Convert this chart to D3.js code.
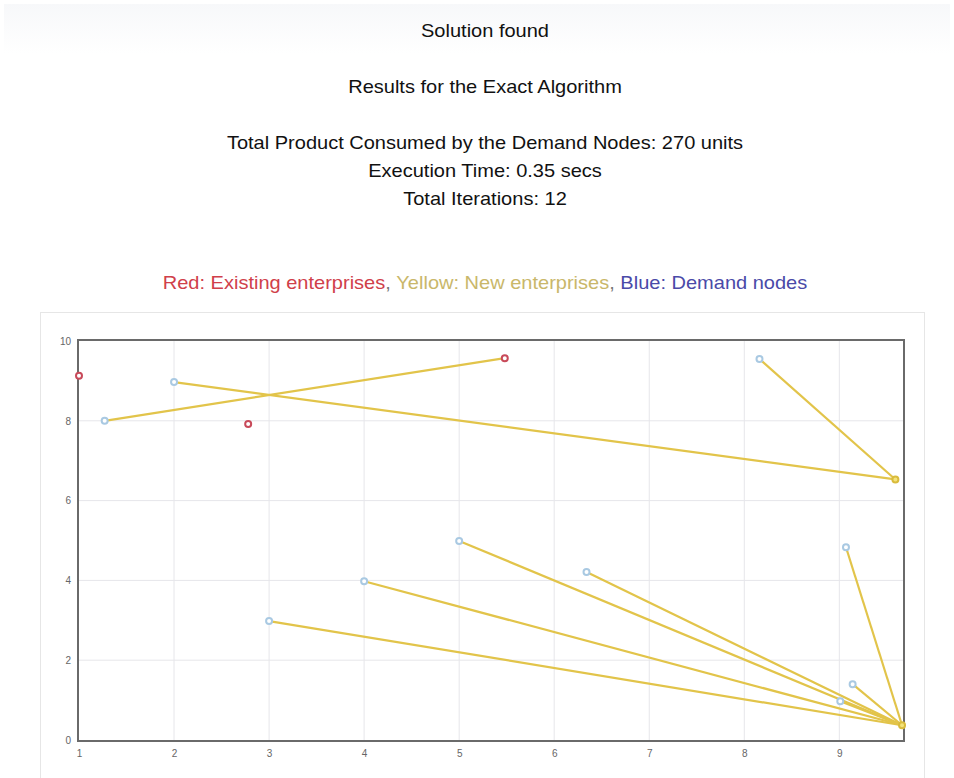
<!DOCTYPE html>
<html>
<head>
<meta charset="utf-8">
<script src="https://cdn.jsdelivr.net/npm/d3@7"></script>
<style>
  body { margin: 0; background: #fff; font-family: "Liberation Sans", Arial, sans-serif; }
  #head { position: absolute; left: 4px; top: 4px; width: 946px; height: 50px;
          background: linear-gradient(#f7f8fa, #fff); }
  #box { position: absolute; left: 40px; top: 312px; width: 885px; height: 480px;
         border: 1px solid #e6e6e6; box-sizing: border-box; }
</style>
</head>
<body>
<div id="head"></div>
<div id="box"></div>
<div id="chart" style="position:absolute;left:0;top:0;"></div>
<script>
const headerLines = [
  {text: 'Solution found', y: 31},
  {text: 'Results for the Exact Algorithm', y: 87},
  {text: 'Total Product Consumed by the Demand Nodes: 270 units', y: 143},
  {text: 'Execution Time: 0.35 secs', y: 171},
  {text: 'Total Iterations: 12', y: 199}
];

const legendParts = [
  {text: 'Red: Existing enterprises', color: '#d0404a'},
  {text: ', ', color: '#777'},
  {text: 'Yellow: New enterprises', color: '#c9b76a'},
  {text: ', ', color: '#777'},
  {text: 'Blue: Demand nodes', color: '#4a4aa8'}
];

// existing enterprises (red)
const existing = [[1.0, 9.13], [2.78, 7.92], [5.48, 9.57]];
// new enterprises (yellow)
const newEnt = [[9.59, 6.53], [9.66, 0.37]];
// demand nodes (blue)
const demand = [
  [1.27, 8.0], [2.0, 8.97], [8.16, 9.55], [3.0, 2.98], [4.0, 3.98],
  [5.0, 4.99], [6.34, 4.21], [9.07, 4.83], [9.14, 1.4], [9.01, 0.97]
];
// assignments: demand index -> supplier point
const links = [
  [0, existing[2]], [1, newEnt[0]], [2, newEnt[0]],
  [3, newEnt[1]], [4, newEnt[1]], [5, newEnt[1]], [6, newEnt[1]],
  [7, newEnt[1]], [8, newEnt[1]], [9, newEnt[1]]
];

const xTicks = [1, 2, 3, 4, 5, 6, 7, 8, 9];
const yTicks = [0, 2, 4, 6, 8, 10];

const width = 954, height = 778;
const plot = {left: 79, top: 341, right: 903, bottom: 740};

const svg = d3.select('#chart').append('svg')
    .attr('width', width)
    .attr('height', height);

// header text is a bit stretched horizontally in the original
let head = svg.append('g')
    .attr('transform', 'translate(485, 0) scale(1.1, 1)');

head.selectAll('text.head')
    .data(headerLines)
    .join('text')
    .attr('class', 'head')
    .attr('x', 0)
    .attr('y', d => d.y + 6.5)
    .attr('text-anchor', 'middle')
    .attr('font-size', 18.2)
    .attr('fill', '#111')
    .text(d => d.text);

let legend = head.append('text')
    .attr('x', 0)
    .attr('y', 289.5)
    .attr('text-anchor', 'middle')
    .attr('font-size', 18.2);
legend.selectAll('tspan')
    .data(legendParts)
    .join('tspan')
    .attr('fill', d => d.color)
    .text(d => d.text);

let xScale = d3.scaleLinear()
    .domain([1, 9.67])
    .range([plot.left, plot.right]);

let yScale = d3.scaleLinear()
    .domain([0, 10])
    .range([plot.bottom, plot.top]);

// grid
let grid = svg.append('g').attr('class', 'grid');
grid.selectAll('line.gx')
    .data(xTicks.slice(1))
    .join('line')
    .attr('x1', d => xScale(d)).attr('x2', d => xScale(d))
    .attr('y1', plot.top).attr('y2', plot.bottom)
    .attr('stroke', '#e6e6ea');
grid.selectAll('line.gy')
    .data(yTicks.slice(1, -1))
    .join('line')
    .attr('x1', plot.left).attr('x2', plot.right)
    .attr('y1', d => yScale(d)).attr('y2', d => yScale(d))
    .attr('stroke', '#e6e6ea');

// axes
let xAxis = svg.append('g')
    .attr('transform', `translate(0, ${plot.bottom})`)
    .call(d3.axisBottom(xScale).tickValues(xTicks).tickSize(0).tickPadding(10).tickFormat(d3.format('d')));
let yAxis = svg.append('g')
    .attr('transform', `translate(${plot.left}, 0)`)
    .call(d3.axisLeft(yScale).tickValues(yTicks).tickSize(0).tickPadding(8).tickFormat(d3.format('d')));
[xAxis, yAxis].forEach(a => {
    a.select('.domain').remove();
    a.selectAll('text')
        .attr('font-family', '"Liberation Sans", Arial, sans-serif')
        .attr('font-size', 10)
        .attr('fill', '#666');
});

// links
svg.append('g').selectAll('line')
    .data(links)
    .join('line')
    .attr('x1', d => xScale(demand[d[0]][0]))
    .attr('y1', d => yScale(demand[d[0]][1]))
    .attr('x2', d => xScale(d[1][0]))
    .attr('y2', d => yScale(d[1][1]))
    .attr('stroke', '#e2c44a')
    .attr('stroke-width', 2.2);

// plot border
svg.append('rect')
    .attr('x', plot.left - 1)
    .attr('y', plot.top - 1)
    .attr('width', plot.right - plot.left + 2)
    .attr('height', plot.bottom - plot.top + 2)
    .attr('fill', 'none')
    .attr('stroke', '#6a6a6a')
    .attr('stroke-width', 2);

function drawPoints(data, stroke, fill) {
    svg.append('g').selectAll('circle')
        .data(data)
        .join('circle')
        .attr('cx', d => xScale(d[0]))
        .attr('cy', d => yScale(d[1]))
        .attr('r', 3)
        .attr('fill', fill)
        .attr('stroke', stroke)
        .attr('stroke-width', 2);
}

drawPoints(demand, '#a9c9e2', '#fff');
drawPoints(existing, '#c84a5a', '#fff');
drawPoints(newEnt, '#d9bb3c', '#f3e27a');
</script>
</body>
</html>
